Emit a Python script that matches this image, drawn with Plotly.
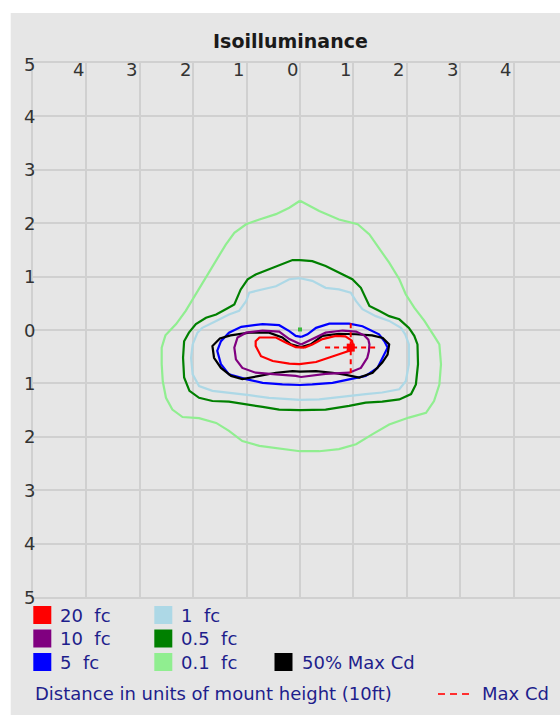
import plotly.graph_objects as go

# ---------------- data (units of mount height) ----------------
fc01_x = [0, 0.36, 0.73, 1.08, 1.30, 1.48, 1.67, 1.86, 1.98, 2.14, 2.33, 2.51,
          2.61, 2.64, 2.61, 2.51, 2.36, 2.04, 1.67, 1.36, 1.05, 0.73, 0.36, 0,
          -0.33, -0.76, -1.08, -1.33, -1.57, -1.89, -2.20, -2.39, -2.51, -2.57, -2.59, -2.59,
          -2.52, -2.32, -2.14, -1.95, -1.76, -1.57, -1.39, -1.23, -1.01, -0.76, -0.45, -0.20]
fc01_y = [2.42, 2.23, 2.07, 1.98, 1.79, 1.54, 1.26, 0.95, 0.67, 0.42, 0.17, -0.11,
          -0.27, -0.64, -1.02, -1.33, -1.55, -1.64, -1.77, -1.95, -2.14, -2.23, -2.27, -2.27,
          -2.23, -2.17, -2.08, -1.89, -1.74, -1.65, -1.63, -1.49, -1.27, -0.96, -0.64, -0.33,
          -0.10, 0.11, 0.36, 0.67, 0.98, 1.29, 1.60, 1.82, 1.98, 2.07, 2.17, 2.29]

fc05_x = [0, 0.23, 0.48, 0.73, 0.98, 1.14, 1.23, 1.30, 1.48, 1.67, 1.86, 2.04, 2.14,
          2.20, 2.21, 2.17, 2.08, 1.86, 1.54, 1.23, 0.92, 0.48, 0,
          -0.39, -0.70, -1.01, -1.33, -1.64, -1.89, -2.07, -2.17, -2.19, -2.17, -2.08,
          -1.95, -1.76, -1.57, -1.39, -1.23, -1.11, -0.98, -0.83, -0.58, -0.33, -0.14]
fc05_y = [1.31, 1.29, 1.20, 1.07, 0.95, 0.79, 0.60, 0.45, 0.36, 0.26, 0.20, 0.04, -0.11,
          -0.27, -0.64, -1.02, -1.20, -1.30, -1.34, -1.36, -1.42, -1.49, -1.50,
          -1.49, -1.44, -1.39, -1.34, -1.33, -1.27, -1.14, -0.89, -0.52, -0.21, -0.05,
          0.11, 0.23, 0.29, 0.39, 0.48, 0.76, 0.95, 1.04, 1.14, 1.23, 1.31]

fc1_x = [0, 0.23, 0.48, 0.73, 0.95, 1.05, 1.17, 1.42, 1.67, 1.89, 1.97, 2.04, 2.04,
         1.98, 1.86, 1.54, 1.23, 0.86, 0.36, 0, -0.20, -0.58, -0.95, -1.33, -1.64,
         -1.89, -2.01, -2.04, -2.01, -1.92, -1.83, -1.57, -1.33, -1.14, -1.01, -0.95,
         -0.70, -0.45, -0.20]
fc1_y = [0.97, 0.92, 0.79, 0.76, 0.70, 0.54, 0.39, 0.26, 0.17, 0.04, -0.08, -0.27, -0.64,
         -0.96, -1.11, -1.17, -1.20, -1.24, -1.30, -1.31, -1.30, -1.27, -1.22, -1.17, -1.14,
         -1.05, -0.83, -0.52, -0.27, -0.05, 0.04, 0.17, 0.29, 0.36, 0.54, 0.70,
         0.76, 0.82, 0.95]

fc5_x = [0.02, 0.14, 0.30, 0.55, 0.92, 1.17, 1.48, 1.58, 1.64, 1.54, 1.45, 1.23, 0.92,
         0.61, 0.23, 0, -0.33, -0.70, -1.01, -1.33, -1.48, -1.55, -1.48, -1.33, -1.10,
         -0.70, -0.39, -0.20, -0.08]
fc5_y = [-0.13, -0.08, 0.04, 0.12, 0.12, 0.07, -0.08, -0.21, -0.33, -0.52, -0.71, -0.86, -0.92,
         -0.99, -1.02, -1.03, -1.02, -0.99, -0.92, -0.83, -0.64, -0.39, -0.21, -0.05, 0.06,
         0.11, 0.09, -0.02, -0.11]

fc10_x = [0.02, 0.23, 0.48, 0.80, 1.05, 1.20, 1.28, 1.30, 1.29, 1.26, 1.14, 0.92, 0.48,
          0.02, -0.08, -0.45, -0.83, -1.08, -1.20, -1.23, -1.17, -1.01, -0.70, -0.39, -0.20]
fc10_y = [-0.27, -0.17, -0.05, -0.01, -0.03, -0.10, -0.18, -0.27, -0.40, -0.52, -0.71, -0.80, -0.82,
          -0.88, -0.86, -0.83, -0.80, -0.71, -0.55, -0.33, -0.14, -0.05, -0.01, -0.03, -0.17]

fc20_x = [0.08, 0.23, 0.42, 0.67, 0.85, 0.97, 1.00, 0.95, 0.80, 0.61, 0.30, -0.01, -0.20,
          -0.51, -0.73, -0.83, -0.83, -0.76, -0.45, -0.26, -0.08]
fc20_y = [-0.33, -0.27, -0.17, -0.11, -0.12, -0.20, -0.30, -0.38, -0.43, -0.49, -0.60, -0.64, -0.63,
          -0.58, -0.49, -0.30, -0.21, -0.14, -0.14, -0.24, -0.32]

half_x = [0.02, 0.20, 0.42, 0.73, 1.05, 1.35, 1.55, 1.67, 1.64, 1.54, 1.36, 1.11, 0.86,
          0.61, 0.30, 0, -0.14, -0.45, -0.76, -1.08, -1.29, -1.48, -1.61, -1.64, -1.50,
          -1.30, -0.95, -0.58, -0.33, -0.17]
half_y = [-0.32, -0.27, -0.11, -0.07, -0.08, -0.10, -0.15, -0.27, -0.46, -0.61, -0.80, -0.89, -0.84,
          -0.80, -0.77, -0.78, -0.77, -0.80, -0.86, -0.92, -0.86, -0.71, -0.52, -0.30, -0.16,
          -0.10, -0.05, -0.05, -0.14, -0.27]

max_cd_x = 0.95
max_cd_y = -0.33
max_cd_half = 0.48
luminaire_x = [0]
luminaire_y = [0.01]

top_ticks = [-4, -3, -2, -1, 0, 1, 2, 3, 4]
left_ticks = [5, 4, 3, 2, 1, 0, -1, -2, -3, -4, -5]

contours = [
    ("0.1 fc", fc01_x, fc01_y, "#90ee90"),
    ("0.5 fc", fc05_x, fc05_y, "#008000"),
    ("1 fc", fc1_x, fc1_y, "#add8e6"),
    ("5 fc", fc5_x, fc5_y, "#0000ff"),
    ("50% Max Cd", half_x, half_y, "#000000"),
    ("10 fc", fc10_x, fc10_y, "#800080"),
    ("20 fc", fc20_x, fc20_y, "#ff0000"),
]

# ---------------- layout geometry ----------------
W, H = 560, 715
ML, MR, MT, MB = 33, 0, 63, 118
PW = W - ML - MR
PH = H - MT - MB
UNIT = PH / 10.0

def px(x):
    return (x - ML) / PW

def py(y):
    return (MT + PH - y) / PH

BG = "#e6e6e6"
GRID = "#d0d0d0"
TXT = "#1e1e8c"
FONT = "DejaVu Sans"

fig = go.Figure()

for name, xs, ys, col in contours:
    fig.add_trace(go.Scatter(x=xs + xs[:1], y=ys + ys[:1], mode="lines",
                             line=dict(color=col, width=2.2), name=name,
                             hoverinfo="skip", showlegend=False))

# Max Cd crosshair
fig.add_trace(go.Scatter(x=[max_cd_x - max_cd_half, max_cd_x + max_cd_half], y=[max_cd_y, max_cd_y],
                         mode="lines", line=dict(color="#ff0000", width=2, dash="5px,4px"),
                         showlegend=False, hoverinfo="skip"))
fig.add_trace(go.Scatter(x=[max_cd_x, max_cd_x], y=[max_cd_y - max_cd_half, max_cd_y + max_cd_half],
                         mode="lines", line=dict(color="#ff0000", width=2, dash="5px,4px"),
                         showlegend=False, hoverinfo="skip"))
fig.add_trace(go.Scatter(x=[max_cd_x], y=[max_cd_y], mode="markers",
                         marker=dict(symbol="square", size=8, color="#ff0000", line=dict(width=0)),
                         showlegend=False, hoverinfo="skip"))
fig.add_trace(go.Scatter(x=luminaire_x, y=luminaire_y, mode="markers",
                         marker=dict(symbol="square", size=4, color="#3cb83c", line=dict(width=0)),
                         showlegend=False, hoverinfo="skip"))

shapes = []
# gray panel
shapes.append(dict(type="rect", xref="paper", yref="paper", layer="below",
                   x0=px(10.7), x1=px(W + 5), y0=py(H + 5), y1=py(12.9),
                   fillcolor=BG, line=dict(width=0)))

annotations = []
annotations.append(dict(text="<b>Isoilluminance</b>", xref="paper", yref="paper",
                        x=px(290), y=py(28), showarrow=False,
                        font=dict(family=FONT, size=19, color="#1a1a1a")))
for v in top_ticks:
    annotations.append(dict(text=str(abs(v)), xref="x", yref="paper", x=v, y=py(57),
                            xshift=-8, showarrow=False,
                            font=dict(family=FONT, size=18, color="#333333")))
for v in left_ticks:
    annotations.append(dict(text=str(abs(v)), xref="paper", yref="y", x=px(22), y=v,
                            yshift=-1 if v == 5 else 0, showarrow=False,
                            font=dict(family=FONT, size=18, color="#333333")))

# legend entries: (label, colour, column left px, row centre px)
legend_items = [
    ("20&nbsp; fc", "#ff0000", 33.3, 615),
    ("10&nbsp; fc", "#800080", 33.3, 638.5),
    ("5&nbsp; fc", "#0000ff", 33.3, 662),
    ("1&nbsp; fc", "#add8e6", 154.3, 615),
    ("0.5&nbsp; fc", "#008000", 154.3, 638.5),
    ("0.1&nbsp; fc", "#90ee90", 154.3, 662),
    ("50% Max Cd", "#000000", 274.5, 662),
]
for label, col, lx, ly in legend_items:
    shapes.append(dict(type="rect", xref="paper", yref="paper",
                       x0=px(lx), x1=px(lx + 18), y0=py(ly + 9), y1=py(ly - 9),
                       fillcolor=col, line=dict(width=0)))
    annotations.append(dict(text=label, xref="paper", yref="paper", x=px(lx + 25), y=py(ly),
                            xanchor="left", yanchor="middle", showarrow=False,
                            font=dict(family=FONT, size=18, color=TXT)))

annotations.append(dict(text="Distance in units of mount height (10ft)", xref="paper", yref="paper",
                        x=px(32.5), y=py(694), xanchor="left", yanchor="middle", showarrow=False,
                        font=dict(family=FONT, size=18, color=TXT)))
shapes.append(dict(type="line", xref="paper", yref="paper", x0=px(438), x1=px(471),
                   y0=py(694), y1=py(694), line=dict(color="#ff3030", width=2, dash="7px,5px")))
annotations.append(dict(text="Max Cd", xref="paper", yref="paper", x=px(480), y=py(694),
                        xanchor="left", yanchor="middle", showarrow=False,
                        font=dict(family=FONT, size=18, color=TXT)))

fig.update_layout(
    width=W, height=H,
    margin=dict(l=ML, r=MR, t=MT, b=MB, pad=0),
    paper_bgcolor="#ffffff",
    plot_bgcolor=BG,
    shapes=shapes,
    annotations=annotations,
    showlegend=False,
    xaxis=dict(range=[-5, -5 + PW / UNIT], dtick=1, tick0=0, showgrid=True, gridcolor=GRID,
               gridwidth=1.5, zeroline=False, showticklabels=False, ticks="",
               showline=True, linecolor=GRID, linewidth=1.5, mirror=True, fixedrange=True),
    yaxis=dict(range=[-5, 5], dtick=1, tick0=0, showgrid=True, gridcolor=GRID,
               gridwidth=1.5, zeroline=False, showticklabels=False, ticks="",
               showline=True, linecolor=GRID, linewidth=1.5, mirror=False, fixedrange=True),
)

fig.write_html("out.html", config={"displayModeBar": False},
               post_script="document.body.style.margin='0';document.body.style.overflow='hidden';")
